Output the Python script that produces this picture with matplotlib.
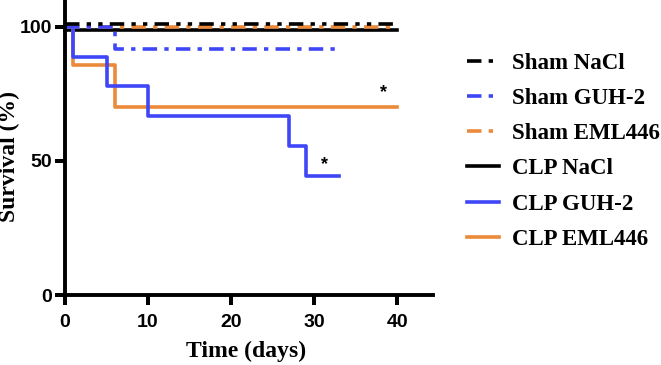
import matplotlib
matplotlib.use('Agg')
import matplotlib.pyplot as plt

# survival step data (day, percent)
sham_nacl_t = [0, 40]
sham_nacl_s = [101, 101]
sham_guh_t = [0, 6, 33]
sham_guh_s = [100, 91.7, 91.7]
sham_eml_t = [0, 40]
sham_eml_s = [100, 100]
clp_nacl_t = [0, 40]
clp_nacl_s = [99, 99]
clp_guh_t = [0, 1, 5, 10, 27, 29, 33]
clp_guh_s = [100, 88.9, 77.8, 66.7, 55.6, 44.4, 44.4]
clp_eml_t = [0, 1, 6, 40]
clp_eml_s = [100, 85.7, 70, 70]

labels = ['Sham NaCl', 'Sham GUH-2', 'Sham EML446', 'CLP NaCl', 'CLP GUH-2', 'CLP EML446']
stars = [(38.3, 75.5), (31.2, 48.5)]
xticks = [0, 10, 20, 30, 40]
yticks = [0, 50, 100]

blue = '#3f46f7'
orange = '#ec8a3c'

fig = plt.figure(figsize=(6.61, 3.65), dpi=100)
ax = fig.add_axes([60 / 661, 1 - 295 / 365, (433 - 60) / 661, 295 / 365])

lw = 2.6
ax.plot(clp_nacl_t, clp_nacl_s, color='black', lw=lw, drawstyle='steps-post', label=labels[3])
ax.plot(clp_eml_t, clp_eml_s, color=orange, lw=lw, drawstyle='steps-post', label=labels[5])
ax.plot(clp_guh_t, clp_guh_s, color=blue, lw=lw, drawstyle='steps-post', label=labels[4])
ax.plot(sham_eml_t, sham_eml_s, color=orange, lw=lw, drawstyle='steps-post',
        dashes=(4, 2, 1.2, 2), label=labels[2])
ax.plot(sham_guh_t, sham_guh_s, color=blue, lw=lw, drawstyle='steps-post',
        dashes=(4, 2, 1.2, 2), label=labels[1])
ax.plot(sham_nacl_t, sham_nacl_s, color='black', lw=lw, drawstyle='steps-post',
        dashes=(4, 2, 1.2, 2, 1.2, 2), label=labels[0])

for x, y in stars:
    ax.text(x, y, '*', fontsize=13, fontweight='bold', ha='center', va='center',
            family='Liberation Sans')

ax.set_xlim(-0.6, 44.3)
ax.set_ylim(0, 110)
ax.set_xticks(xticks)
ax.set_yticks(yticks)
for s in ['top', 'right']:
    ax.spines[s].set_visible(False)
for s in ['left', 'bottom']:
    ax.spines[s].set_linewidth(2.8)
ax.spines['left'].set_position(('data', 0))
ax.tick_params(direction='out', width=2.8, length=7.5, labelsize=14, color='black')
ax.tick_params(axis='x', pad=6)
ax.tick_params(axis='y', pad=1.5)
for lab in ax.get_xticklabels() + ax.get_yticklabels():
    lab.set_family('Liberation Sans')
    lab.set_fontweight('bold')

# tick marks drawn as plain lines as well (marker ticks didn't show up)
for xt in xticks:
    ax.plot([xt, xt], [0, -3.9], color='black', lw=2.8, clip_on=False, solid_capstyle='butt')
for yt in yticks:
    ax.plot([0, -1.25], [yt, yt], color='black', lw=2.8, clip_on=False, solid_capstyle='butt')
ax.set_xlim(-0.6, 44.3)
ax.set_ylim(0, 110)

ax.set_xlabel('Time (days)', family='Liberation Serif', fontweight='bold', fontsize=17, labelpad=7)
ax.set_ylabel('Survival (%)', family='Liberation Serif', fontweight='bold', fontsize=17)
ax.yaxis.set_label_coords(-0.107, 0.468)

handles, labs = ax.get_legend_handles_labels()
order = [labs.index(l) for l in labels]
leg = fig.legend([handles[i] for i in order], [labs[i] for i in order],
                 loc='upper left', bbox_to_anchor=(446 / 661, 1 - 32 / 365),
                 frameon=False, handlelength=1.4, handletextpad=0.6,
                 labelspacing=0.62,
                 prop={'family': 'Liberation Serif', 'weight': 'bold', 'size': 16.5})

fig.savefig('out.png', dpi=100)
